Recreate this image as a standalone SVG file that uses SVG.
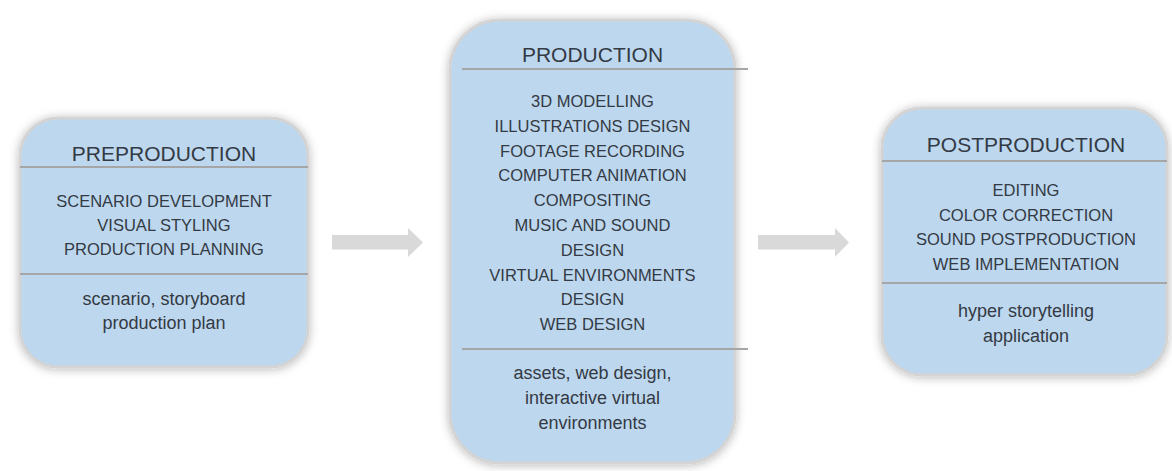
<svg xmlns="http://www.w3.org/2000/svg" width="1172" height="471" viewBox="0 0 1172 471">
  <defs>
    <filter id="shadow" x="-10%" y="-10%" width="120%" height="120%">
      <feDropShadow dx="0" dy="1" stdDeviation="5" flood-color="#000" flood-opacity="0.28"/>
    </filter>
  </defs>
  <style>
    .box { fill: #bdd7ee; stroke: #d4d4d4; stroke-width: 3; filter: url(#shadow); }
    .div { stroke: #a6a6a6; stroke-width: 2; }
    .t { font-family: "Liberation Sans", Arial, sans-serif; fill: #333a44; text-anchor: middle; }
    .title { font-size: 21px; }
    .item { font-size: 16.5px; }
    .low { font-size: 18px; }
    .arrow { fill: #d9d9d9; }
  </style>
  <rect width="1172" height="471" fill="#ffffff"/>

  <g id="connectors">
    <polygon class="arrow" points="332,235 408,235 408,228 423,242.5 408,257 408,249.5 332,249.5"/>
    <polygon class="arrow" points="758,235 835,235 835,228 849,242.5 835,257 835,249.5 758,249.5"/>
  </g>

  <g id="preproduction">
    <rect class="box" x="20" y="118" width="288" height="249" rx="38" ry="38"/>
    <text class="t title" x="164" y="161">PREPRODUCTION</text>
    <line class="div" x1="20" y1="167" x2="308" y2="167"/>
    <text class="t item" x="164" y="207">SCENARIO DEVELOPMENT</text>
    <text class="t item" x="164" y="231">VISUAL STYLING</text>
    <text class="t item" x="164" y="255">PRODUCTION PLANNING</text>
    <line class="div" x1="20" y1="274" x2="308" y2="274"/>
    <text class="t low" x="164" y="305">scenario, storyboard</text>
    <text class="t low" x="164" y="329">production plan</text>
  </g>

  <g id="production">
    <rect class="box" x="450" y="20" width="285" height="443" rx="50" ry="50"/>
    <text class="t title" x="592.5" y="62">PRODUCTION</text>
    <line class="div" x1="462" y1="69" x2="748" y2="69"/>
    <text class="t item" x="592.5" y="107">3D MODELLING</text>
    <text class="t item" x="592.5" y="131.8">ILLUSTRATIONS DESIGN</text>
    <text class="t item" x="592.5" y="156.6">FOOTAGE RECORDING</text>
    <text class="t item" x="592.5" y="181.4">COMPUTER ANIMATION</text>
    <text class="t item" x="592.5" y="206.2">COMPOSITING</text>
    <text class="t item" x="592.5" y="231">MUSIC AND SOUND</text>
    <text class="t item" x="592.5" y="255.8">DESIGN</text>
    <text class="t item" x="592.5" y="280.6">VIRTUAL ENVIRONMENTS</text>
    <text class="t item" x="592.5" y="305.4">DESIGN</text>
    <text class="t item" x="592.5" y="330.2">WEB DESIGN</text>
    <line class="div" x1="462" y1="349" x2="748" y2="349"/>
    <text class="t low" x="592.5" y="379">assets, web design,</text>
    <text class="t low" x="592.5" y="404">interactive virtual</text>
    <text class="t low" x="592.5" y="429">environments</text>
  </g>

  <g id="postproduction">
    <rect class="box" x="882" y="108" width="285" height="267" rx="40" ry="40"/>
    <text class="t title" x="1026" y="152">POSTPRODUCTION</text>
    <line class="div" x1="882" y1="161" x2="1167" y2="161"/>
    <text class="t item" x="1026" y="196">EDITING</text>
    <text class="t item" x="1026" y="220.7">COLOR CORRECTION</text>
    <text class="t item" x="1026" y="245.4">SOUND POSTPRODUCTION</text>
    <text class="t item" x="1026" y="270">WEB IMPLEMENTATION</text>
    <line class="div" x1="882" y1="283" x2="1167" y2="283"/>
    <text class="t low" x="1026" y="317">hyper storytelling</text>
    <text class="t low" x="1026" y="342">application</text>
  </g>
</svg>
